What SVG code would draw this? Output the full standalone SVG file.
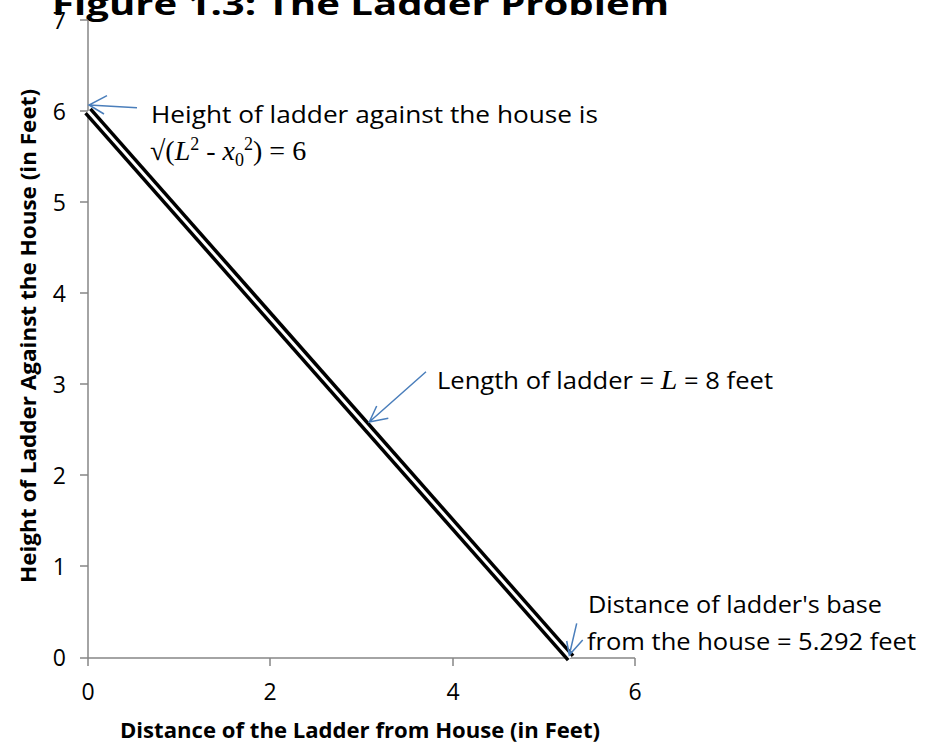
<svg xmlns="http://www.w3.org/2000/svg" width="927" height="749" viewBox="0 0 927 749">
<style>
.t{font-family:"Open Sans","Noto Sans","Liberation Sans",sans-serif;fill:#000}
.b{font-weight:bold}
.tick{font-size:23px}
.ann{font-size:24px}
.m{font-family:"Liberation Serif","Times New Roman",serif;font-size:28px}
.ax{stroke:#868686;stroke-width:1.5;fill:none}
.arr{stroke:#4a7ebb;stroke-width:1.5;fill:none}
</style>
<rect width="927" height="749" fill="#fff"/>
<g id="title"><text class="t b" x="52" y="15" font-size="31" textLength="617" lengthAdjust="spacingAndGlyphs">Figure 1.3: The Ladder Problem</text></g>
<g id="axes">
<path class="ax" d="M88,20V658H635M80,20H88M80,111H88M80,202H88M80,293H88M80,384H88M80,475H88M80,566H88M80,658H88M88,658V666M270,658V666M453,658V666M635,658V666"/>
<g class="t tick" text-anchor="end">
<text x="66" y="666">0</text><text x="66" y="575">1</text><text x="66" y="484">2</text><text x="66" y="393">3</text><text x="66" y="302">4</text><text x="66" y="211">5</text><text x="66" y="120">6</text><text x="66" y="29">7</text>
</g>
<g class="t tick" text-anchor="middle">
<text x="88" y="700">0</text><text x="270" y="700">2</text><text x="453" y="700">4</text><text x="635" y="700">6</text>
</g>
<text class="t b" x="360" y="738" font-size="21" text-anchor="middle" textLength="480" lengthAdjust="spacingAndGlyphs">Distance of the Ladder from House (in Feet)</text>
<text class="t b" transform="translate(36,336) rotate(-90)" font-size="21" text-anchor="middle" textLength="494" lengthAdjust="spacingAndGlyphs">Height of Ladder Against the House (in Feet)</text>
</g>
<g id="ladder">
<line x1="88" y1="111" x2="570.6" y2="658" stroke="#000" stroke-width="10"/>
<line x1="88" y1="111" x2="570.6" y2="658" stroke="#fff" stroke-width="3"/>
</g>
<g id="connectors">
<path class="arr" d="M137,107.7L89,105M107,95.7L89,105L104,114"/>
<path class="arr" d="M426,371.7L369.3,422M376.7,406L369.3,422L388.3,418.3"/>
<path class="arr" d="M576.7,623.3L569.3,655M566.7,641L569.3,655L582.7,640"/>
</g>
<g id="label-height">
<text class="t ann" x="151" y="123" textLength="447" lengthAdjust="spacingAndGlyphs">Height of ladder against the house is</text>
<text class="m" x="150" y="160">√(<tspan font-style="italic">L</tspan><tspan font-size="18" dy="-10">2</tspan><tspan dy="10"> - </tspan><tspan font-style="italic">x</tspan><tspan font-size="18" dy="6">0</tspan><tspan font-size="18" dy="-16">2</tspan><tspan dy="10">) = 6</tspan></text>
</g>
<g id="label-length">
<text class="t ann" x="437" y="389" textLength="336" lengthAdjust="spacingAndGlyphs">Length of ladder = <tspan class="m" font-style="italic">L</tspan> = 8 feet</text>
</g>
<g id="label-distance">
<text class="t ann" x="588" y="613" textLength="294" lengthAdjust="spacingAndGlyphs">Distance of ladder's base</text>
<text class="t ann" x="587" y="650" textLength="329" lengthAdjust="spacingAndGlyphs">from the house = 5.292 feet</text>
</g>
</svg>
